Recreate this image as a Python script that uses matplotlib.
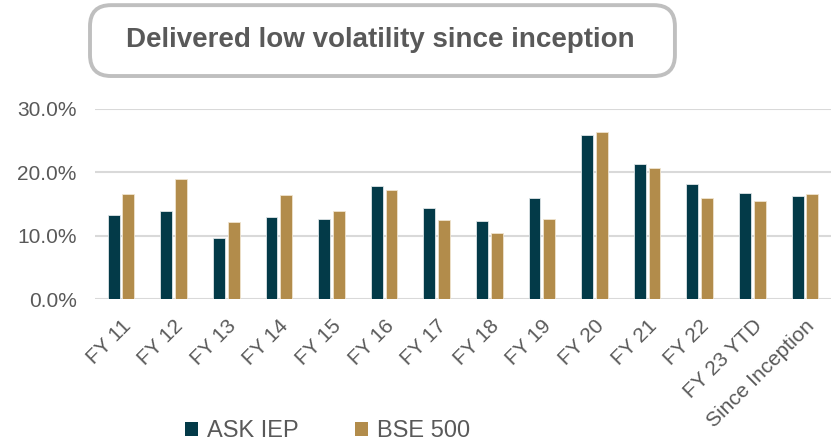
import numpy as np
import matplotlib
matplotlib.use("Agg")
import matplotlib.pyplot as plt
from matplotlib.patches import FancyBboxPatch, Patch
from matplotlib.ticker import FuncFormatter

# Annualised volatility (%)
categories = ["FY 11", "FY 12", "FY 13", "FY 14", "FY 15", "FY 16", "FY 17",
              "FY 18", "FY 19", "FY 20", "FY 21", "FY 22", "FY 23 YTD",
              "Since Inception"]
ask_iep = [13.3, 13.9, 9.7, 13.0, 12.7, 17.9, 14.3, 12.4, 16.0, 25.9, 21.3, 18.1, 16.8, 16.3]
bse_500 = [16.6, 18.9, 12.2, 16.4, 13.9, 17.2, 12.5, 10.4, 12.6, 26.3, 20.6, 15.9, 15.5, 16.6]

teal = "#033A48"
gold = "#B28C4B"
grey_txt = "#595959"

plt.rcParams['font.family'] = ['Liberation Sans', 'DejaVu Sans']

fig = plt.figure(figsize=(8.38, 4.43), dpi=100)
ax = fig.add_axes([0.113, 0.324, 0.879, 0.431])

x = np.arange(len(categories))
w = 0.225
ax.bar(x - 0.14, ask_iep, w, color=teal, edgecolor="#dfe6e8", linewidth=0.6, zorder=3)
ax.bar(x + 0.14, bse_500, w, color=gold, edgecolor="#efe4cf", linewidth=0.6, zorder=3)

ax.set_xlim(-0.5, len(categories) - 0.5)
ax.set_ylim(0, 30)
ax.set_yticks([0, 10, 20, 30])
ax.yaxis.set_major_formatter(FuncFormatter(lambda v, p: f"{v:.1f}%"))
ax.grid(axis="y", color="#D9D9D9", linewidth=1.5, zorder=0)
for s in ax.spines.values():
    s.set_visible(False)
ax.tick_params(axis="both", length=0, labelsize=15, labelcolor=grey_txt)
ax.tick_params(axis="y", pad=13)
ax.set_xticks(x)
ax.set_xticklabels(categories, rotation=45, ha="right", rotation_mode="anchor")
ax.tick_params(axis="x", pad=12)

# legend
handles = [Patch(facecolor=teal, label="ASK IEP"), Patch(facecolor=gold, label="BSE 500")]
fig.legend(handles=handles, loc="center", bbox_to_anchor=(0.391, 0.027), ncol=2,
           frameon=False, fontsize=17, labelcolor=grey_txt, handlelength=0.55,
           handleheight=0.55, handletextpad=0.36, columnspacing=2.4,
           borderpad=0, borderaxespad=0)

# title box
box = FancyBboxPatch((0.1074, 0.8284), 0.698, 0.160, transform=fig.transFigure,
                     boxstyle="round,pad=0,rounding_size=0.025", facecolor="white",
                     edgecolor="#BFBFBF", linewidth=2.8, mutation_aspect=1.9)
fig.patches.append(box)
fig.text(0.4535, 0.9097, "Delivered low volatility since inception", ha="center", va="center",
         fontsize=20, fontweight="bold", color=grey_txt)

fig.savefig("out.png", dpi=100)
